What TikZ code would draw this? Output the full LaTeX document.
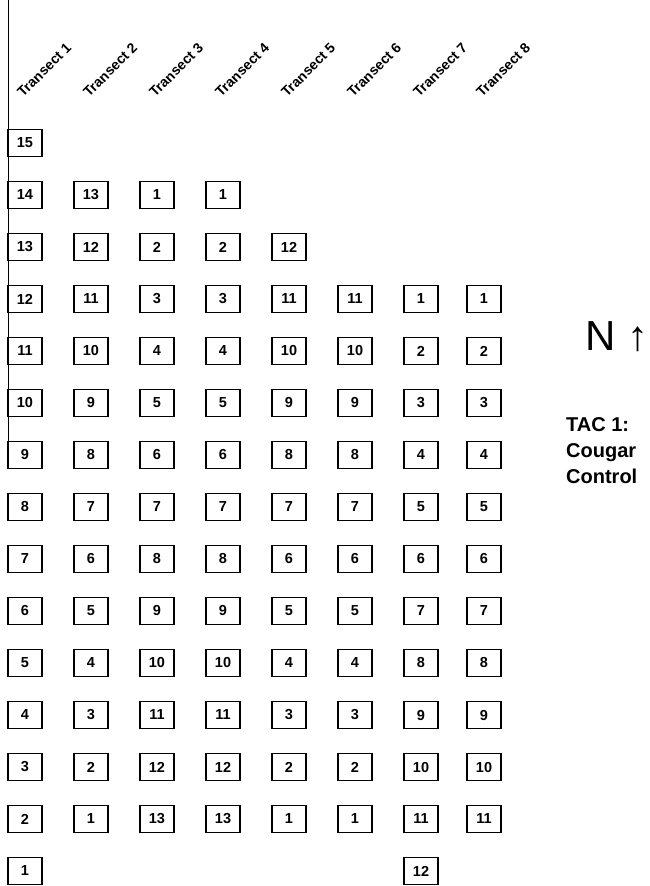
\documentclass[tikz,border=0pt]{standalone}
\usepackage{fontspec}
\setmainfont{Liberation Sans}
\usetikzlibrary{positioning}

\tikzset{
    plotbox/.style={draw, line width=1.5pt, minimum width=34pt, minimum height=27pt,
        inner sep=0pt, font=\fontsize{14.5}{14.5}\selectfont\bfseries},
    tlabel/.style={rotate=45, anchor=base west, inner sep=0pt,
        font=\fontsize{14}{14}\selectfont\bfseries}
}

\begin{document}
\begin{tikzpicture}[x=1pt, y=-1pt]
    \useasboundingbox (0,0) rectangle (649,886);

    % Left edge line
    \draw[line width=1pt] (8,0) -- (8,452);

    % Transect headers
    \foreach \c/\x in {1/25,2/91,3/157,4/223,5/289,6/355,7/421,8/484}
        \node[tlabel] (head\c) at (\x-2,98) {Transect \c};

    % Plots: column / x / first row / first number / step / count
    \foreach \c/\x/\r/\n/\d/\k in {1/25/0/15/-1/15, 2/91/1/13/-1/13,
            3/157/1/1/1/13, 4/223/1/1/1/13, 5/289/2/12/-1/12,
            6/355/3/11/-1/11, 7/421/3/1/1/12, 8/484/3/1/1/11} {
        \foreach \i in {1,...,\k} {
            \pgfmathtruncatemacro{\num}{\n+\d*(\i-1)}
            \node[plotbox] (t\c-\num) at (\x,{143+52*(\r+\i-1)}) {\num};
        }
    }

    % North and site label
    \node[anchor=base west, inner sep=0pt, font=\fontsize{42}{42}\selectfont]
        (north) at (585,350) {N ↑};
    \node[anchor=north west, align=left, inner sep=0pt,
        font=\fontsize{20}{26}\selectfont\bfseries]
        (site) at (566,417) {TAC 1:\\Cougar\\Control};

\end{tikzpicture}
\end{document}
